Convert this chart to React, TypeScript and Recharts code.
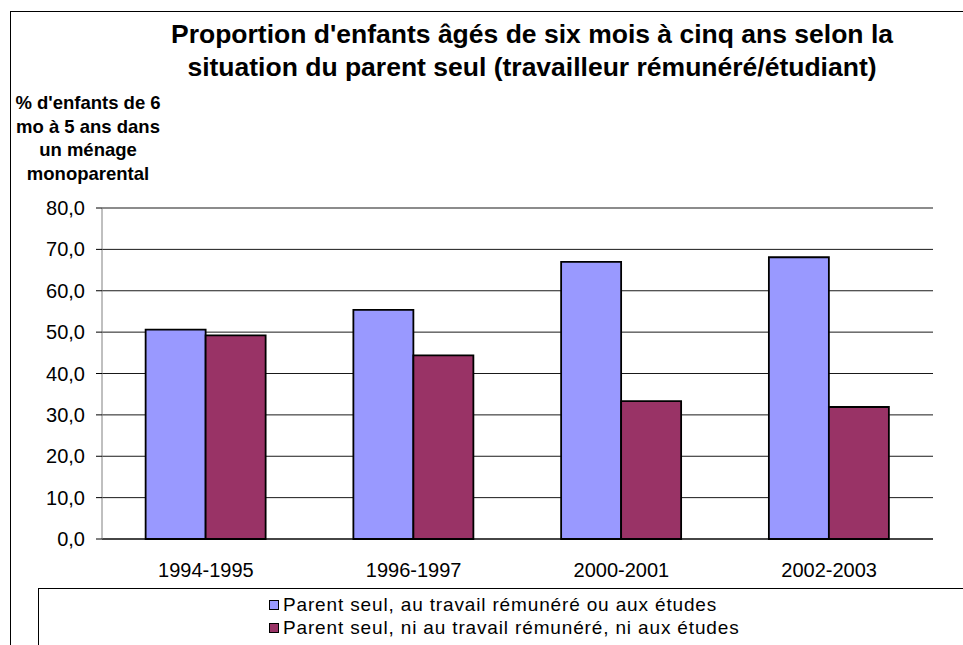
import { BarChart, Bar, XAxis, YAxis, CartesianGrid } from 'recharts';

// periods and values
const periods = ['1994-1995', '1996-1997', '2000-2001', '2002-2003'];
const workingOrStudying = [50.6, 55.4, 67.0, 68.1];
const notWorkingNorStudying = [49.2, 44.4, 33.3, 31.9];
const yTicks = [0, 10, 20, 30, 40, 50, 60, 70, 80];

const seriesNames = [
  'Parent seul, au travail rémunéré ou aux études',
  'Parent seul, ni au travail rémunéré, ni aux études',
];
const colors = ['#9999FF', '#993366'];

const data = periods.map((period, i) => ({
  period,
  idx: i,
  working: workingOrStudying[i],
  notWorking: notWorkingNorStudying[i],
}));

const font = 'Arial, "Liberation Sans", sans-serif';

const App = () => {
  return (
    <div style={{ position: 'absolute', left: 0, top: 0, width: 963, height: 645, background: '#fff', fontFamily: font, overflow: 'hidden' }}>
      {/* outer frame */}
      <div style={{ position: 'absolute', left: 10, top: 11, width: 980, height: 700, border: '1px solid #000' }} />

      <div
        style={{
          position: 'absolute',
          left: 82,
          top: 18,
          width: 900,
          textAlign: 'center',
          fontWeight: 'bold',
          fontSize: 26.5,
          lineHeight: '33px',
          color: '#000',
          whiteSpace: 'nowrap',
        }}
      >
        Proportion d'enfants âgés de six mois à cinq ans selon la
        <br />
        situation du parent seul (travailleur rémunéré/étudiant)
      </div>

      <div
        style={{
          position: 'absolute',
          left: 8,
          top: 91,
          width: 160,
          textAlign: 'center',
          fontWeight: 'bold',
          fontSize: 18.5,
          lineHeight: '23.5px',
          color: '#000',
          whiteSpace: 'nowrap',
        }}
      >
        % d'enfants de 6<br />mo à 5 ans dans<br />un ménage<br />monoparental
      </div>

      <div style={{ position: 'absolute', left: 0, top: 0 }}>
        <BarChart
          width={963}
          height={645}
          data={data}
          margin={{ top: 208, right: 30, bottom: 76, left: 42 }}
          barCategoryGap="21%"
          barGap={0}
        >
          <CartesianGrid vertical={false} stroke="#000" strokeOpacity={0.9} />
          <XAxis
            dataKey="period"
            axisLine={{ stroke: '#000' }}
            tickLine={false}
            tickMargin={18}
            height={30}
            tick={{ fill: '#000', fontSize: 20, fontFamily: font }}
          />
          <XAxis
            xAxisId="edges"
            type="number"
            dataKey="idx"
            domain={[0, 4]}
            ticks={[0, 1, 2, 3, 4]}
            axisLine={false}
            tick={false}
            tickLine={{ stroke: '#000' }}
            height={0}
          />
          <YAxis
            domain={[0, 80]}
            ticks={yTicks}
            width={60}
            axisLine={{ stroke: '#808080' }}
            tickLine={{ stroke: '#000' }}
            tickMargin={11}
            tickFormatter={(v) => v.toFixed(1).replace('.', ',')}
            tick={{ fill: '#000', fontSize: 20, fontFamily: font }}
          />
          <Bar dataKey="working" fill={colors[0]} stroke="#000" strokeWidth={1.8} isAnimationActive={false} />
          <Bar dataKey="notWorking" fill={colors[1]} stroke="#000" strokeWidth={1.8} isAnimationActive={false} />
        </BarChart>
      </div>

      {/* legend box */}
      <div style={{ position: 'absolute', left: 38, top: 588, width: 960, height: 100, border: '1px solid #000' }} />
      <div style={{ position: 'absolute', left: 269, top: 593, fontSize: 19, letterSpacing: 0.85, lineHeight: '23px', color: '#000', whiteSpace: 'nowrap' }}>
        {seriesNames.map((name, i) => (
          <div key={name} style={{ display: 'flex', alignItems: 'center' }}>
            <span
              style={{
                display: 'inline-block',
                width: 8,
                height: 8,
                background: colors[i],
                border: '1px solid #000',
                marginRight: 4,
              }}
            />
            {name}
          </div>
        ))}
      </div>
    </div>
  );
};

export default App;
